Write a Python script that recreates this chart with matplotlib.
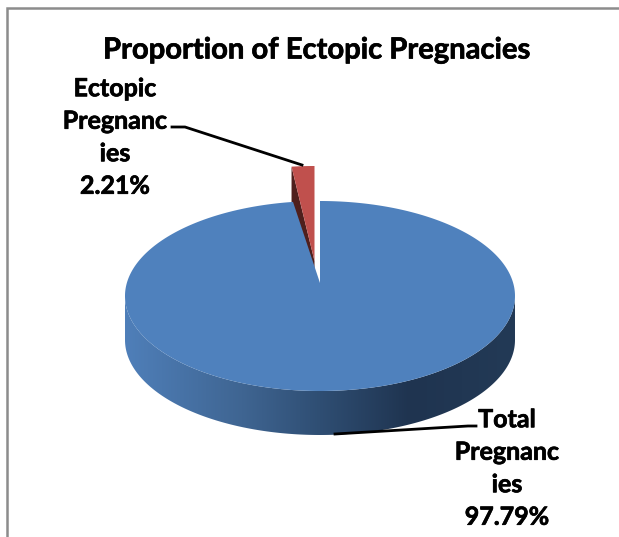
import numpy as np
import matplotlib
matplotlib.use('Agg')
import matplotlib.pyplot as plt
import matplotlib.patheffects as pe
from matplotlib.colors import LinearSegmentedColormap
from matplotlib.patches import Polygon

title = 'Proportion of Ectopic Pregnacies'
names = ['Ectopic\nPregnanc\nies', 'Total\nPregnanc\nies']
shares = [2.21, 97.79]


def ellipse_arc(cx, cy, rx, ry, start, stop, n=200):
    """Points on the pie rim, angles in degrees clockwise from 12 o'clock."""
    t = np.radians(np.linspace(start, stop, n))
    return np.column_stack([cx + rx * np.sin(t), cy - ry * np.cos(t)])


def main():
    fig = plt.figure(figsize=(6.19, 5.37), dpi=100)
    ax = fig.add_axes([0, 0, 1, 1])
    ax.set_xlim(0, 619)
    ax.set_ylim(537, 0)
    ax.axis('off')

    # chart frame, only left and top edges are inside the picture
    ax.plot([6.5, 6.5, 619], [537, 7.5, 7.5], color='#8c8c8c', lw=1.8, solid_joinstyle='miter')

    cx, cy, rx, ry, depth = 320, 296, 195, 95, 44
    ect_angle = shares[0] / 100 * 360

    # pulled out slice, drawn first so the big one covers its foot
    red_x, red_y = cx - 5.5, cy - 35
    red_arc = ellipse_arc(red_x, red_y, rx, ry, -ect_angle * 0.85, 0, 20)
    wall = np.array([red_arc[0], red_arc[0] + [0, 35], [red_x, red_y + 35], [red_x, red_y]])
    ax.add_patch(Polygon(wall, fc='#4f1f1d', ec='none'))
    ax.add_patch(Polygon(np.vstack([[red_x, red_y], red_arc]), fc='#c0504d', ec='none'))

    # side of the big slice, shaded left to right
    shade = LinearSegmentedColormap.from_list(
        'side', [(0, '#4f7fb9'), (0.3, '#3f6592'), (0.5, '#2f4e73'), (0.73, '#1f3450'), (1, '#233a56')])
    front = ellipse_arc(cx, cy, rx, ry, 90, 270)
    side = np.vstack([front, front[::-1] + [0, depth]])
    side_patch = Polygon(side, fc='none', ec='none')
    ax.add_patch(side_patch)
    img = ax.imshow(np.linspace(0, 1, 256)[None, :], cmap=shade, aspect='auto',
                    extent=(cx - rx, cx + rx, cy + ry + depth, cy), zorder=1)
    img.set_clip_path(side_patch)
    ax.set_xlim(0, 619)
    ax.set_ylim(537, 0)

    # top of the big slice, tip sits a little above the centre
    rim = ellipse_arc(cx, cy, rx, ry, 0, 360 - ect_angle, 400)
    ax.add_patch(Polygon(np.vstack([[cx, cy - 13], rim]), fc='#4f81bd', ec='none', zorder=2))

    # Lato bold is a bit thinner than the original face, thicken it slightly
    font = dict(family=['Lato', 'DejaVu Sans'], fontweight='bold', color='black', zorder=4,
                path_effects=[pe.withStroke(linewidth=0.5, foreground='black')])
    ax.text(316.5, 50.5, title, fontsize=21, ha='center', va='center', **font)

    ax.plot([172, 185, 302], [127, 127, 165], color='black', lw=2, zorder=3)
    ax.plot([476, 468, 335], [426, 426, 434], color='black', lw=2, zorder=3)

    ax.text(115, 137.5, '{}\n{}%'.format(names[0], shares[0]), fontsize=18, ha='center',
            va='center', linespacing=1.5, **font)
    ax.text(507, 468.5, '{}\n{}%'.format(names[1], shares[1]), fontsize=18, ha='center',
            va='center', linespacing=1.5, **font)

    fig.savefig('out.png', dpi=100)


if __name__ == '__main__':
    main()
